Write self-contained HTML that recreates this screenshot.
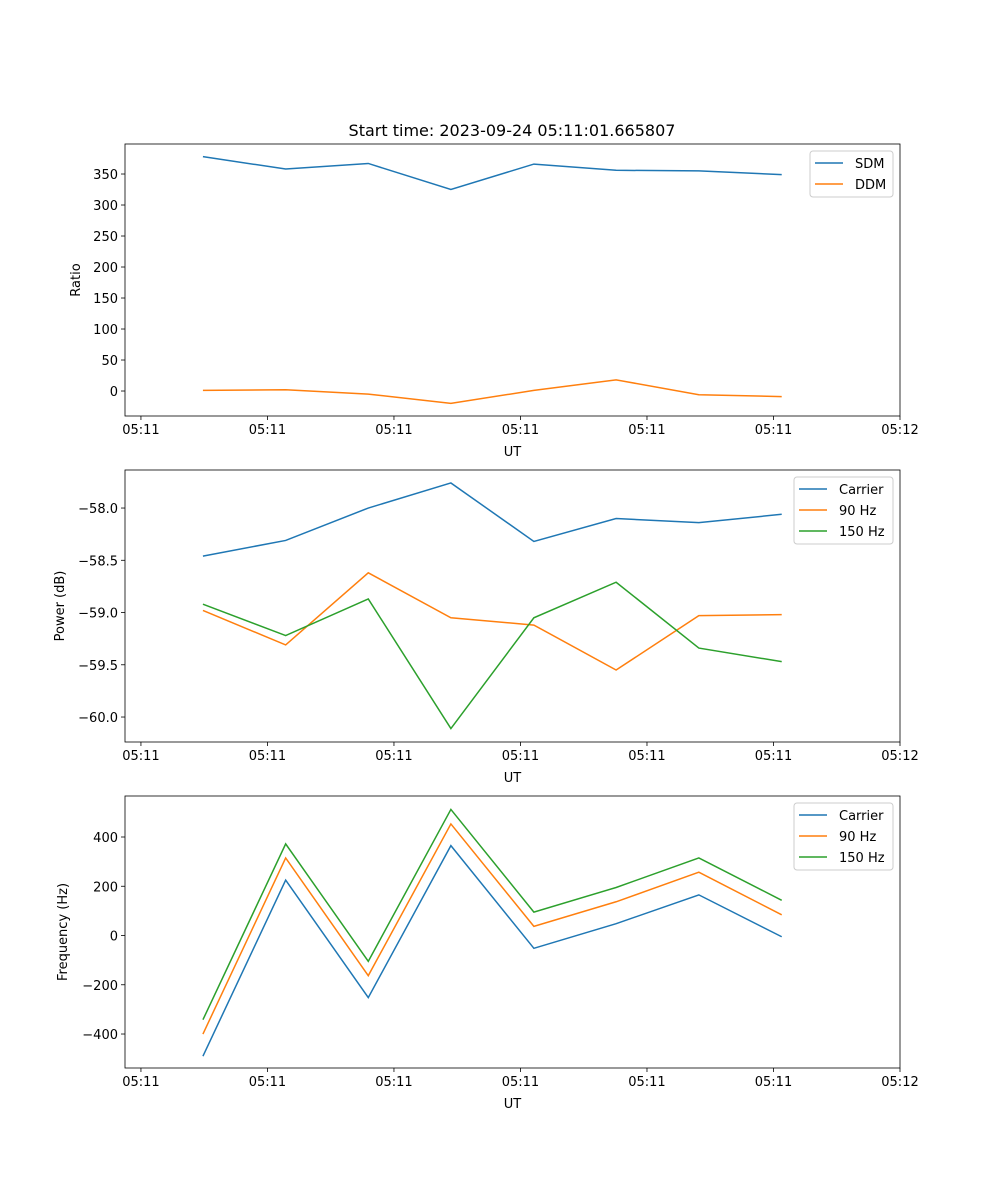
<!DOCTYPE html>
<html><head><meta charset="utf-8"><style>
body{margin:0;background:#fff}
svg{display:block;font-family:"DejaVu Sans","Liberation Sans",sans-serif}
</style></head><body>
<svg id="fig" width="1000" height="1200" viewBox="0 0 1000 1200">
<rect width="1000" height="1200" fill="#fff"/>
<text x="512" y="136" font-size="16" text-anchor="middle">Start time: 2023-09-24 05:11:01.665807</text>
</svg>
<script>
const times=[4.9,11.44,17.97,24.5,31.06,37.56,44.1,50.65];
const xTicks=[0,10,20,30,40,50,60];
const xTickLabels=["05:11","05:11","05:11","05:11","05:11","05:11","05:12"];
const sdm=[378,358,367,325,366,356,355,349];
const ddm=[1,2,-5,-20,1,18,-6,-9];
const pCarrier=[-58.46,-58.31,-58.00,-57.76,-58.32,-58.10,-58.14,-58.06];
const p90=[-58.98,-59.31,-58.62,-59.05,-59.12,-59.55,-59.03,-59.02];
const p150=[-58.92,-59.22,-58.87,-60.11,-59.05,-58.71,-59.34,-59.47];
const fCarrier=[-490,225,-252,365,-52,48,165,-5];
const f90=[-400,315,-163,453,37,137,257,84];
const f150=[-342,372,-105,512,95,195,315,143];
const ticks1=[0,50,100,150,200,250,300,350];
const ticks2=[-60.0,-59.5,-59.0,-58.5,-58.0];
const ticks3=[-400,-200,0,200,400];
const C=["#1f77b4","#ff7f0e","#2ca02c"];
const NS="http://www.w3.org/2000/svg";
const svg=document.getElementById('fig');
function mk(t,a,p){const e=document.createElementNS(NS,t);for(const k in a)e.setAttribute(k,a[k]);(p||svg).appendChild(e);return e;}
function panel(cfg){
 const L=125,R=900,T=cfg.top,B=cfg.top+272;
 const g=mk('g',{});
 
 
 const xs=v=>L+(v-(-1.26))/(60-(-1.26))*(R-L);
 const ys=v=>B-(v-cfg.ymin)/(cfg.ymax-cfg.ymin)*(B-T);
 xTicks.forEach((t,i)=>{const x=xs(t);
  mk('line',{x1:x,x2:x,y1:B,y2:B+4,stroke:'#000','stroke-width':0.8},g);
  const tx=mk('text',{x:x,y:B+18,'font-size':13,'text-anchor':'middle'},g);tx.textContent=xTickLabels[i];
  
  });
 cfg.ticks.forEach(t=>{const y=ys(t);
  mk('line',{x1:L-4,x2:L,y1:y,y2:y,stroke:'#000','stroke-width':0.8},g);
  const tx=mk('text',{x:L-7,y:y+5,'font-size':13,'text-anchor':'end'},g);tx.textContent=cfg.fmt(t);
  
  });
 cfg.series.forEach((s,i)=>{
  const pl=mk('polyline',{points:s.map((v,j)=>xs(times[j])+','+ys(v)).join(' '),fill:'none',stroke:C[i],'stroke-width':1.5},g);
  
  });
 mk('rect',{x:L,y:T,width:R-L,height:B-T,fill:'none',stroke:'#000','stroke-width':0.8},g);
 const xl=mk('text',{x:(L+R)/2,y:B+40,'font-size':13,'text-anchor':'middle'},g);xl.textContent='UT';
 
 
 const yl=mk('text',{x:0,y:0,'font-size':13,'text-anchor':'middle',transform:`translate(${cfg.ylx},${(T+B)/2}) rotate(-90)`},g);yl.textContent=cfg.ylabel;
 
 
 const lg=mk('g',{},g);
 
 
 const n=cfg.labels.length,lx=cfg.lx;
 mk('rect',{x:lx,y:T+7,width:R-7-lx,height:n*21+4,rx:3,fill:'#fff',stroke:'#ccc','stroke-width':1},lg);
 cfg.labels.forEach((lab,i)=>{const y=T+19+i*21;
  mk('line',{x1:lx+5,x2:lx+33,y1:y,y2:y,stroke:C[i],'stroke-width':1.5},lg);
  const t=mk('text',{x:lx+45,y:y+5,'font-size':13},lg);t.textContent=lab;
  
  });
}
panel({name:'ratio-panel',top:144,ymin:-40.3,ymax:398.4,ticks:ticks1,fmt:v=>String(v),series:[sdm,ddm],labels:['SDM','DDM'],ylabel:'Ratio',ylx:80,lx:810});
panel({name:'power-panel',top:470,ymin:-60.239,ymax:-57.636,ticks:ticks2,fmt:v=>'\u2212'+Math.abs(v).toFixed(1),series:[pCarrier,p90,p150],labels:['Carrier','90 Hz','150 Hz'],ylabel:'Power (dB)',ylx:64,lx:794});
panel({name:'frequency-panel',top:796,ymin:-538,ymax:566.5,ticks:ticks3,fmt:v=>v<0?'\u2212'+Math.abs(v):String(v),series:[fCarrier,f90,f150],labels:['Carrier','90 Hz','150 Hz'],ylabel:'Frequency (Hz)',ylx:67,lx:794});
</script>
</body></html>
